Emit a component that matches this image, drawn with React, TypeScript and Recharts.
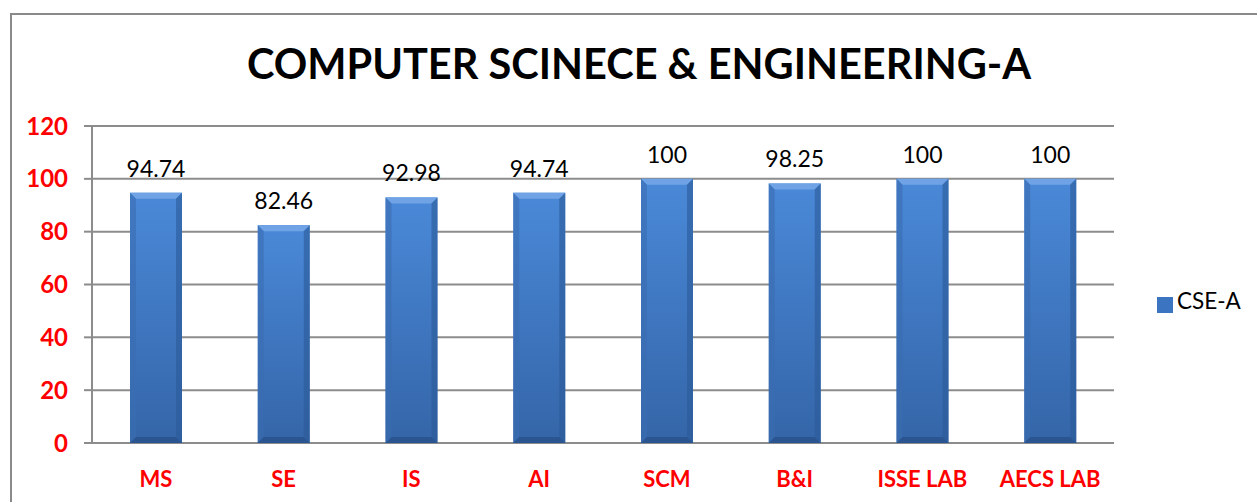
import React from 'react';
import { BarChart, Bar, XAxis, YAxis, CartesianGrid, Legend, LabelList } from 'recharts';

const subjects = ['MS', 'SE', 'IS', 'AI', 'SCM', 'B&I', 'ISSE LAB', 'AECS LAB'];
const cseA = [94.74, 82.46, 92.98, 94.74, 100, 98.25, 100, 100];
const yTicks = [0, 20, 40, 60, 80, 100, 120];
const boundaryTicks = [0, 1, 2, 3, 4, 5, 6, 7, 8];

const data = subjects.map((name, i) => ({ name, value: cseA[i] }));

const FONT = 'Lato, "Open Sans", sans-serif';
const RED = '#ff0000';
const GRID = '#8c8c8c';

// excel-ish bevelled bar
const BevelBar = (props: any) => {
  const { x, y, width, height } = props;
  if (!height || height <= 0) return null;
  const b = 6;
  return (
    <g>
      <rect x={x} y={y} width={width} height={height} fill="url(#barFill)" />
      <polygon points={`${x},${y} ${x + width},${y} ${x + width - b},${y + b} ${x + b},${y + b}`} fill="#6fa3e6" />
      <polygon points={`${x},${y} ${x + b},${y + b} ${x + b},${y + height - b} ${x},${y + height}`} fill="#3a6cb0" opacity={0.6} />
      <polygon points={`${x + width},${y} ${x + width - b},${y + b} ${x + width - b},${y + height - b} ${x + width},${y + height}`} fill="#2c5a98" opacity={0.6} />
      <polygon points={`${x},${y + height} ${x + b},${y + height - b} ${x + width - b},${y + height - b} ${x + width},${y + height}`} fill="#2a5590" />
    </g>
  );
};

const App = () => {
  return (
    <div style={{ position: 'absolute', left: 0, top: 0, width: 1257, height: 502, background: '#fff', overflow: 'hidden', fontFamily: FONT }}>
      <div style={{ position: 'absolute', left: 10, top: 13, width: 1300, height: 560, border: '2px solid #8a8a8a', boxSizing: 'border-box' }} />
      <div style={{ position: 'absolute', left: 0, top: 38, width: 1278, textAlign: 'center', fontSize: 41.5, fontWeight: 700, color: '#000' }}>
        COMPUTER SCINECE &amp; ENGINEERING-A
      </div>
      <div style={{ position: 'absolute', left: 0, top: 0 }}>
        <BarChart width={1257} height={502} data={data} margin={{ top: 126, right: 43, bottom: 0, left: 0 }}>
          <defs>
            <linearGradient id="barFill" x1="0" y1="0" x2="0" y2="1">
              <stop offset="0%" stopColor="#4a89d8" />
              <stop offset="100%" stopColor="#3465a8" />
            </linearGradient>
          </defs>
          <CartesianGrid vertical={false} stroke={GRID} strokeWidth={2} />
          <XAxis
            xAxisId="bounds"
            type="number"
            domain={[0, 8]}
            ticks={boundaryTicks}
            tick={false}
            tickSize={8}
            height={0}
            axisLine={{ stroke: GRID, strokeWidth: 2 }}
            tickLine={{ stroke: GRID, strokeWidth: 2 }}
          />
          <XAxis
            dataKey="name"
            height={59}
            axisLine={false}
            tickLine={false}
            tickSize={8}
            tickMargin={20}
            interval={0}
            tick={{ fill: RED, fontSize: 22, fontWeight: 700, fontFamily: FONT }}
          />
          <YAxis
            width={92}
            domain={[0, 120]}
            ticks={yTicks}
            tickSize={8}
            tickMargin={16}
            axisLine={{ stroke: GRID, strokeWidth: 2 }}
            tickLine={{ stroke: GRID, strokeWidth: 2 }}
            tick={{ fill: RED, fontSize: 24, fontWeight: 700, fontFamily: FONT }}
          />
          <Legend
            layout="vertical"
            align="right"
            verticalAlign="top"
            iconType="square"
            iconSize={16}
            wrapperStyle={{ left: 1157, top: 287, width: 100 }}
            formatter={(v: string) => <span style={{ color: '#000', fontSize: 22.5, fontFamily: FONT }}>{v}</span>}
          />
          <Bar dataKey="value" name="CSE-A" barSize={52} fill="#3b74c0" shape={<BevelBar />} isAnimationActive={false}>
            <LabelList dataKey="value" position="top" offset={16} fill="#000" fontSize={23} fontFamily={FONT} />
          </Bar>
        </BarChart>
      </div>
    </div>
  );
};

export default App;
